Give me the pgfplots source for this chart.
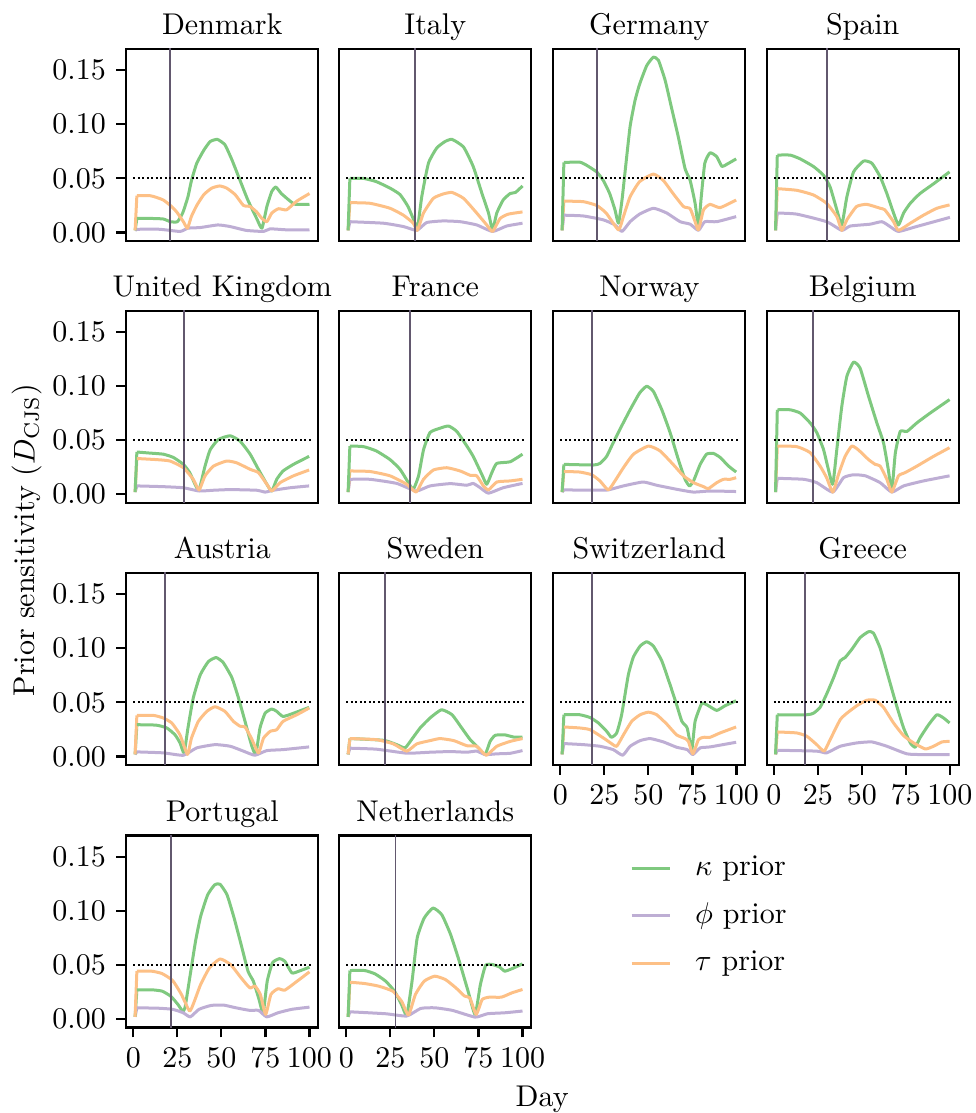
\documentclass[border=0pt]{standalone}
\usepackage{pgfplots}
\pgfplotsset{compat=1.18}
\definecolor{kcol}{RGB}{127,201,127}
\definecolor{pcol}{RGB}{190,174,212}
\definecolor{ocol}{RGB}{253,192,134}
\definecolor{vcol}{RGB}{98,88,110}
\pgfplotsset{
  every axis title/.style={at={(0.5,1)}, anchor=base, yshift=4.8pt, inner sep=0pt},
  panel/.style={scale only axis, width=64pt, height=64pt, anchor=south west,
    xmin=-4, xmax=105, ymin=-0.0078, ymax=0.1695,
    axis line style={line width=0.7pt},
    tick align=outside, major tick length=3.3pt,
    tick style={line width=0.7pt, black},
    xtick=\empty, ytick=\empty, xtick pos=bottom, ytick pos=left,
    clip=true},
  yt/.style={ytick={0,0.05,0.10,0.15},
    yticklabel style={/pgf/number format/.cd, fixed, fixed zerofill, precision=2}},
  xt/.style={xtick={0,25,50,75,100}},
  kap/.style={color=kcol, line width=1.0pt, line join=round, smooth, tension=0.3},
  phi/.style={color=pcol, line width=1.0pt, line join=round, smooth, tension=0.3},
  tau/.style={color=ocol, line width=1.0pt, line join=round, smooth, tension=0.3},
  vl/.style={color=vcol, line width=0.65pt, forget plot},
  hl/.style={black, line width=0.7pt, dash pattern=on 0.7pt off 0.8pt, forget plot},
}
% first step of a series (day 1 -> day 2), drawn straight
\newcommand{\stp}[2]{\addplot[#1, sharp plot, forget plot] coordinates {(1,0.002) (2,#2)};}
\newcommand{\refl}[1]{%
  \addplot[vl] coordinates {(#1,-0.01) (#1,0.18)};
  \addplot[hl] coordinates {(0,0.05) (102,0.05)};}
\begin{document}
\begin{tikzpicture}
\path[use as bounding box] (0,0) rectangle (325.33pt,371pt);
% ---------------- Row 1 ----------------
\begin{axis}[panel, yt, at={(42.1pt,290.67pt)}, title={Denmark}]
\stp{phi}{0.003}\stp{kap}{0.013}\stp{tau}{0.034}
\addplot[kap] coordinates {(2,0.013) (10,0.013) (17,0.0125) (21,0.010) (25,0.010) (28,0.018) (31,0.033) (33,0.048) (36,0.064) (40,0.076) (43.6,0.084) (47.7,0.086) (52,0.081) (56,0.067) (60.6,0.048) (65,0.030) (70,0.013) (73,0.004) (75.8,0.024) (78.6,0.038) (80.9,0.042) (84,0.036) (89,0.029) (92,0.026) (100,0.026)};
\addplot[phi] coordinates {(2,0.003) (15,0.003) (26.5,0.001) (31,0.004) (38,0.0046) (48,0.007) (55,0.0055) (64,0.002) (74,0.001) (77.6,0.0034) (87,0.0025) (100,0.0025)};
\addplot[tau] coordinates {(2,0.034) (9.5,0.034) (13,0.0325) (17,0.030) (21,0.025) (24.6,0.019) (28.4,0.010) (30.7,0.004) (33,0.015) (36,0.025) (40,0.035) (44.5,0.041) (49,0.043) (53,0.041) (57.8,0.035) (62.5,0.025) (66.3,0.024) (70,0.019) (73,0.013) (75.8,0.010) (78.6,0.018) (82.4,0.022) (87,0.021) (92.8,0.029) (100,0.036)};
\refl{21}
\end{axis}
\begin{axis}[panel, at={(113.1pt,290.67pt)}, title={Italy}]
\stp{phi}{0.010}\stp{tau}{0.0276}\stp{kap}{0.050}
\addplot[kap] coordinates {(2,0.050) (9.7,0.050) (17,0.047) (24.8,0.041) (30.5,0.035) (35,0.024) (39,0.0086) (40.3,0.0025) (42.8,0.033) (46.6,0.064) (51.3,0.078) (56,0.084) (60,0.086) (66.5,0.079) (72,0.061) (77,0.036) (80.7,0.018) (83,0.0025) (85.4,0.018) (89,0.030) (93,0.036) (96,0.037) (100,0.043)};
\addplot[phi] coordinates {(2,0.010) (21,0.0086) (32.4,0.0055) (40,0.002) (45.6,0.0092) (55,0.0107) (64.6,0.010) (74,0.007) (83,0.001) (91,0.006) (100,0.0086)};
\addplot[tau] coordinates {(2,0.0276) (13.4,0.027) (24.8,0.0224) (32.4,0.016) (38,0.0086) (40.3,0.002) (43.8,0.018) (49.4,0.0316) (55,0.0356) (60,0.037) (66.5,0.0316) (74,0.018) (79.7,0.007) (83,0.001) (87.3,0.013) (92,0.017) (100,0.019)};
\refl{39}
\end{axis}
\begin{axis}[panel, at={(184.43pt,290.67pt)}, title={Germany}]
\stp{phi}{0.016}\stp{tau}{0.029}\stp{kap}{0.0647}
\addplot[kap] coordinates {(2,0.0647) (11,0.065) (15,0.062) (20.6,0.056) (24.4,0.048) (28,0.036) (31,0.021) (33,0.0086) (35,0.030) (37,0.060) (39.6,0.098) (42.4,0.122) (45,0.137) (49,0.154) (52.8,0.162) (55.7,0.159) (59.5,0.1405) (63,0.116) (67,0.088) (70.8,0.059) (73.7,0.048) (76.5,0.027) (78.4,0.0055) (80,0.033) (82,0.064) (85,0.0736) (88.8,0.070) (91.7,0.061) (94.5,0.063) (99.8,0.068)};
\addplot[phi] coordinates {(2,0.016) (13,0.0153) (24.4,0.0117) (31,0.007) (35,0.001) (39.6,0.010) (45,0.017) (52.8,0.0224) (60.4,0.018) (68,0.010) (73.7,0.0077) (78.4,0.002) (82,0.010) (88.8,0.010) (99.8,0.0147)};
\addplot[tau] coordinates {(2,0.029) (13,0.0285) (20.6,0.025) (26,0.018) (33,0.0025) (35.8,0.0147) (39.6,0.033) (45,0.047) (52.8,0.054) (58.5,0.048) (64,0.036) (69.9,0.024) (73.7,0.022) (76.5,0.010) (78.4,0.0025) (81.3,0.021) (85,0.026) (90.7,0.023) (99.8,0.030)};
\refl{21}
\end{axis}
\begin{axis}[panel, at={(255.57pt,290.67pt)}, title={Spain}]
\stp{phi}{0.018}\stp{tau}{0.0405}\stp{kap}{0.0715}
\addplot[kap] coordinates {(2,0.0715) (9.3,0.0715) (15,0.068) (22.5,0.061) (28.2,0.053) (32,0.042) (35.8,0.021) (38.6,0.007) (41.5,0.033) (45.3,0.056) (51,0.066) (55.7,0.064) (60.4,0.0515) (64.2,0.036) (68,0.018) (70.8,0.007) (73.7,0.018) (77.5,0.027) (83,0.036) (90.7,0.045) (99.8,0.056)};
\addplot[phi] coordinates {(2,0.018) (13,0.017) (30,0.010) (38.6,0.002) (43.4,0.006) (54.7,0.0077) (61.4,0.010) (66,0.0055) (70.8,0.001) (81,0.0055) (100,0.014)};
\addplot[tau] coordinates {(2,0.0405) (13,0.039) (22.5,0.0347) (30,0.027) (35.8,0.0147) (38.6,0.002) (41.5,0.0117) (47,0.024) (52.8,0.026) (60.4,0.0224) (63,0.021) (68,0.010) (70.8,0.002) (77.5,0.0086) (85,0.016) (92.6,0.0224) (99.8,0.0255)};
\refl{30}
\end{axis}
% ---------------- Row 2 ----------------
\begin{axis}[panel, yt, at={(42.1pt,203.43pt)}, title={United Kingdom}]
\stp{phi}{0.0077}\stp{tau}{0.033}\stp{kap}{0.039}
\addplot[kap] coordinates {(2,0.039) (9.5,0.038) (17,0.037) (22.7,0.034) (28.4,0.0276) (32,0.020) (35,0.0092) (37.3,0.004) (40.7,0.026) (43.6,0.041) (48.3,0.0506) (55,0.054) (60.6,0.049) (66.3,0.037) (71,0.023) (75.8,0.0092) (78.6,0.003) (81.4,0.0138) (85,0.0215) (90.9,0.0276) (99.8,0.035)};
\addplot[phi] coordinates {(2,0.0077) (17,0.007) (28.4,0.006) (37.3,0.003) (45.5,0.0037) (55,0.0043) (70,0.0037) (74.8,0.002) (79.5,0.0037) (89,0.006) (99.8,0.0077)};
\addplot[tau] coordinates {(2,0.033) (13,0.032) (20.8,0.0307) (28.4,0.0245) (34,0.0138) (37.3,0.004) (40.7,0.017) (45.5,0.026) (53,0.0307) (58.7,0.029) (66.3,0.023) (71,0.020) (75.8,0.0092) (78.6,0.003) (83.3,0.0107) (90.9,0.017) (99.8,0.0224)};
\refl{28.8}
\end{axis}
\begin{axis}[panel, at={(113.1pt,203.43pt)}, title={France}]
\stp{phi}{0.0138}\stp{tau}{0.0215}\stp{kap}{0.0445}
\addplot[kap] coordinates {(2,0.0445) (9.7,0.044) (17,0.040) (24.8,0.032) (30.5,0.023) (35.2,0.0107) (38,0.0046) (41,0.017) (43.8,0.041) (47.5,0.057) (53.2,0.061) (58,0.063) (62.7,0.058) (68.4,0.0445) (72,0.035) (77,0.018) (79.7,0.0092) (82.6,0.020) (85.4,0.0285) (93,0.030) (100,0.037)};
\addplot[phi] coordinates {(2,0.0138) (13.4,0.0138) (28.6,0.010) (39.6,0.003) (47.5,0.0077) (59,0.0098) (68.4,0.0083) (72,0.010) (76,0.006) (80.7,0.001) (89,0.006) (100,0.010)};
\addplot[tau] coordinates {(2,0.0215) (13.4,0.021) (24.8,0.017) (34.3,0.0092) (39.6,0.002) (43.8,0.0138) (49.4,0.0224) (57,0.0245) (64.6,0.0215) (70.3,0.0175) (74,0.017) (77.8,0.0077) (80.7,0.004) (85.4,0.0113) (93,0.0123) (100,0.0138)};
\refl{36.2}
\end{axis}
\begin{axis}[panel, at={(184.43pt,203.43pt)}, title={Norway}]
\stp{phi}{0.004}\stp{tau}{0.021}\stp{kap}{0.0276}
\addplot[kap] coordinates {(2,0.0276) (18.8,0.027) (22.5,0.0285) (26.3,0.035) (30,0.0475) (34.8,0.063) (39.6,0.078) (45,0.0935) (49,0.0997) (52.8,0.095) (57.6,0.078) (62.3,0.057) (67,0.032) (70.8,0.0138) (73.3,0.0077) (75.6,0.0123) (79.4,0.0276) (83,0.037) (86.9,0.0377) (90.7,0.034) (95.5,0.026) (99.8,0.0205)};
\addplot[phi] coordinates {(2,0.004) (22.5,0.0037) (27.2,0.004) (35.8,0.0077) (47,0.0113) (54.7,0.0083) (66,0.0046) (75.6,0.002) (85,0.003) (99.8,0.0025)};
\addplot[tau] coordinates {(2,0.021) (11,0.0205) (17.8,0.018) (22.5,0.0123) (27.2,0.004) (31,0.0123) (35.8,0.0245) (41.5,0.037) (50,0.0445) (56.6,0.040) (64,0.0276) (69.9,0.017) (75.6,0.0107) (81.3,0.007) (84,0.0052) (88.8,0.0107) (92.6,0.0138) (96.4,0.0138) (99.8,0.0153)};
\refl{17.8}
\end{axis}
\begin{axis}[panel, at={(255.57pt,203.43pt)}, title={Belgium}]
\stp{phi}{0.0147}\stp{tau}{0.0445}\stp{kap}{0.078}
\addplot[kap] coordinates {(2,0.078) (9.3,0.078) (15,0.075) (20.6,0.066) (24.4,0.057) (28.2,0.0415) (31,0.023) (33.5,0.0092) (35.8,0.0415) (38.6,0.081) (41.5,0.109) (45.3,0.122) (49,0.1165) (53.8,0.0905) (58.5,0.066) (62.3,0.0475) (65,0.023) (67,0.003) (69,0.038) (71.8,0.058) (75.6,0.058) (81.3,0.066) (88.8,0.075) (99.8,0.0874)};
\addplot[phi] coordinates {(2,0.0147) (17,0.0138) (24.4,0.0107) (33.5,0.002) (39.6,0.0153) (45.3,0.018) (52,0.017) (60.4,0.0107) (67,0.002) (73.7,0.0077) (85,0.0123) (99.8,0.017)};
\addplot[tau] coordinates {(2,0.0445) (13,0.044) (20.6,0.0385) (26.3,0.026) (30,0.0153) (33.5,0.002) (36.7,0.018) (40.5,0.035) (44.3,0.0445) (48,0.041) (53.8,0.032) (57.6,0.0276) (60.4,0.026) (64.2,0.0138) (67,0.002) (70.8,0.017) (74.6,0.020) (81.3,0.026) (90.7,0.035) (99.8,0.043)};
\refl{22}
\end{axis}
% ---------------- Row 3 ----------------
\begin{axis}[panel, yt, at={(42.1pt,116pt)}, title={Austria}]
\stp{phi}{0.0043}\stp{kap}{0.0294}\stp{tau}{0.038}
\addplot[kap] coordinates {(2,0.0294) (13,0.029) (19,0.0264) (23.7,0.020) (26.5,0.0126) (28.8,0.0034) (31,0.0264) (34,0.054) (38,0.0755) (42.6,0.0877) (47,0.0914) (51,0.0868) (55.9,0.073) (59.7,0.054) (63.4,0.0325) (67,0.011) (69.5,0.002) (71.9,0.0264) (74.8,0.040) (78.6,0.0439) (81.4,0.0417) (85,0.037) (90.9,0.040) (99.8,0.0454)};
\addplot[phi] coordinates {(2,0.0043) (17,0.0034) (28.4,0.0012) (36,0.008) (46.4,0.011) (55,0.0095) (62.5,0.005) (69,0.0012) (75.8,0.0055) (85,0.0064) (99.8,0.0089)};
\addplot[tau] coordinates {(2,0.038) (11.4,0.038) (17,0.0356) (21.8,0.031) (26.5,0.020) (30.7,0.002) (33,0.017) (36.9,0.0325) (41.7,0.0417) (46.4,0.046) (52,0.0417) (56.8,0.0325) (60.6,0.028) (63.4,0.0273) (67,0.017) (71,0.0034) (73.9,0.017) (77.7,0.0233) (81.4,0.0248) (85,0.0325) (92.8,0.0386) (99.8,0.0448)};
\refl{18}
\end{axis}
\begin{axis}[panel, at={(113.1pt,116pt)}, title={Sweden}]
\stp{phi}{0.0077}\stp{kap}{0.0166}\stp{tau}{0.0166}
\addplot[kap] coordinates {(2,0.0166) (21,0.015) (28.6,0.011) (33.3,0.008) (37,0.0156) (41.9,0.0264) (47.5,0.0356) (54,0.0432) (60,0.0386) (65.5,0.0264) (70.3,0.0156) (75,0.008) (78.8,0.002) (81.6,0.014) (84.5,0.0196) (90,0.020) (95,0.018) (100,0.018)};
\addplot[phi] coordinates {(2,0.0077) (17,0.0068) (34.3,0.0031) (47.5,0.004) (59,0.0046) (68.4,0.004) (74,0.005) (78.8,0.0018) (85.4,0.0025) (93,0.003) (100,0.0055)};
\addplot[tau] coordinates {(2,0.0166) (17,0.0156) (26.7,0.0117) (34.3,0.005) (40,0.0117) (47.5,0.0147) (53.2,0.0166) (61,0.0147) (68.4,0.010) (74,0.0095) (79.4,0.0012) (85.4,0.0095) (93,0.014) (100,0.0166)};
\refl{22}
\end{axis}
\begin{axis}[panel, xt, at={(184.43pt,116pt)}, title={Switzerland}]
\stp{phi}{0.012}\stp{tau}{0.0273}\stp{kap}{0.0386}
\addplot[kap] coordinates {(2,0.0386) (11,0.0386) (16.9,0.036) (21.6,0.031) (26.3,0.0233) (29,0.0178) (32,0.0218) (34.8,0.0386) (38.6,0.0755) (41.5,0.092) (45.3,0.102) (49,0.106) (52.8,0.102) (57.6,0.0883) (62.3,0.0663) (66,0.0479) (69,0.0325) (72,0.0264) (74.6,0.0064) (76.5,0.0325) (80.3,0.049) (84,0.047) (88.8,0.0426) (93.6,0.047) (99.8,0.0515)};
\addplot[phi] coordinates {(2,0.012) (13,0.011) (22.5,0.0095) (30,0.0064) (35.4,0.0012) (39.6,0.0095) (45.3,0.0147) (51,0.0166) (58.5,0.0135) (66,0.0086) (72,0.0064) (75.2,0.0018) (79.4,0.008) (85,0.0089) (99.8,0.0132)};
\addplot[tau] coordinates {(2,0.0273) (11,0.0264) (16.9,0.0248) (24.4,0.0172) (29,0.012) (32,0.0095) (35.8,0.020) (40.5,0.0325) (45.3,0.0386) (50,0.041) (54.7,0.0386) (60.4,0.030) (66,0.020) (70.8,0.0166) (72.7,0.014) (75.2,0.0025) (78.4,0.0156) (81.3,0.0178) (85,0.0178) (90.7,0.0218) (99.8,0.0273)};
\refl{17.8}
\end{axis}
\begin{axis}[panel, xt, at={(255.57pt,116pt)}, title={Greece}]
\stp{phi}{0.0058}\stp{tau}{0.0227}\stp{kap}{0.0386}
\addplot[kap] coordinates {(2,0.0386) (18.8,0.0386) (22.5,0.040) (26.3,0.0454) (30,0.0577) (34,0.073) (37.7,0.0883) (40.5,0.0914) (44.3,0.099) (49,0.1098) (53.8,0.1153) (56.6,0.114) (60.4,0.100) (64.2,0.0785) (69,0.051) (73.7,0.0264) (77.5,0.0126) (80.3,0.0086) (83,0.0172) (87.9,0.0294) (92.6,0.0386) (96.4,0.0356) (99.8,0.031)};
\addplot[phi] coordinates {(2,0.0058) (24.4,0.005) (30,0.0034) (37.7,0.0095) (47.2,0.0126) (55.7,0.0135) (64.2,0.0095) (75.6,0.0025) (85,0.0018) (99.8,0.0018)};
\addplot[tau] coordinates {(2,0.0227) (13,0.0218) (18.8,0.0187) (24.4,0.011) (28.6,0.005) (32,0.0156) (37.7,0.034) (41.5,0.040) (47.2,0.047) (52.8,0.052) (57.6,0.052) (62.3,0.0454) (68,0.031) (73.7,0.0193) (79.4,0.0126) (86,0.007) (90.7,0.0095) (95.5,0.0135) (99.8,0.014)};
\refl{17.8}
\end{axis}
% ---------------- Row 4 ----------------
\begin{axis}[panel, yt, xt, at={(42.1pt,28.5pt)}, title={Portugal}]
\stp{phi}{0.0104}\stp{kap}{0.027}\stp{tau}{0.0442}
\addplot[kap] coordinates {(2,0.027) (10.4,0.027) (16.3,0.0258) (21.3,0.021) (25.3,0.0135) (27.9,0.0074) (29.3,0.0104) (32.3,0.041) (35.3,0.0718) (38.2,0.0948) (42.2,0.1147) (46.2,0.124) (49.2,0.1245) (53.2,0.1147) (57.2,0.0933) (61.2,0.0687) (65.1,0.0442) (68.1,0.035) (71.1,0.0196) (73.7,0.0058) (76,0.035) (79,0.052) (83,0.0558) (86,0.0534) (90,0.0426) (94,0.0442) (100,0.0479)};
\addplot[phi] coordinates {(2,0.0104) (14.3,0.010) (22.3,0.009) (28.3,0.0058) (32.3,0.002) (37.3,0.009) (44.2,0.0126) (51.2,0.0129) (58.2,0.0104) (66.1,0.008) (71.1,0.008) (75.7,0.002) (82.1,0.0058) (90,0.009) (100,0.011)};
\addplot[tau] coordinates {(2,0.0442) (10.4,0.0442) (16.3,0.042) (22.3,0.0356) (27.3,0.0227) (31.9,0.0074) (34.3,0.015) (38.2,0.0319) (43.2,0.0472) (49.2,0.0555) (55.2,0.0503) (61.2,0.038) (66.1,0.0288) (69.1,0.0304) (72.1,0.0227) (75.1,0.0043) (78.1,0.0227) (82.1,0.028) (86,0.0267) (93,0.035) (100,0.0436)};
\refl{21.3}
\end{axis}
\begin{axis}[panel, xt, at={(113.1pt,28.5pt)}, title={Netherlands},
  legend style={at={(1.514,0.581)}, anchor=west, draw=none, fill=none,
    inner sep=0pt, outer sep=0pt, row sep=6.9pt, column sep=8pt,
    nodes={inner sep=0pt, text height=6.9pt, text depth=2pt}},
  legend cell align=left,
  legend image code/.code={\draw[#1, sharp plot] (0pt,0pt) -- (12.7pt,0pt);}]
\stp{phi}{0.0067}\stp{tau}{0.034}\stp{kap}{0.0448}
\addplot[kap] coordinates {(2,0.0448) (10.4,0.0448) (16.3,0.0417) (22.3,0.035) (27.3,0.0258) (31.3,0.0135) (34.3,0.0037) (37.3,0.035) (40.2,0.0748) (44.2,0.0933) (49.2,0.1025) (54.2,0.0963) (59.2,0.078) (64.1,0.0534) (69.1,0.0258) (73.1,0.0043) (76.1,0.0319) (79.1,0.0497) (83.1,0.0503) (87.1,0.0479) (90,0.0442) (95,0.0472) (100,0.051)};
\addlegendentry{$\kappa$ prior}
\addplot[phi] coordinates {(2,0.0067) (22.3,0.0049) (34.3,0.0028) (42.2,0.0098) (50.2,0.0104) (60.2,0.008) (73.1,0.0018) (80.1,0.0049) (90,0.0058) (100,0.0074)};
\addlegendentry{$\phi$ prior}
\addplot[tau] coordinates {(2,0.034) (10.4,0.0328) (18.3,0.0304) (26.3,0.0258) (31.3,0.0166) (35.3,0.0037) (39.2,0.0227) (44.2,0.035) (50.2,0.0396) (56.2,0.0365) (62.2,0.0288) (67.1,0.0212) (70.1,0.0196) (73.7,0.0043) (77.1,0.018) (81.1,0.0202) (88,0.0202) (94,0.0242) (100,0.0273)};
\addlegendentry{$\tau$ prior}
\refl{27.9}
\end{axis}
\node[rotate=90, anchor=base] at (11.5pt,191pt) {Prior sensitivity ($D_{\mathrm{CJS}}$)};
\node[anchor=base] at (180.7pt,2.3pt) {Day};
\end{tikzpicture}
\end{document}
